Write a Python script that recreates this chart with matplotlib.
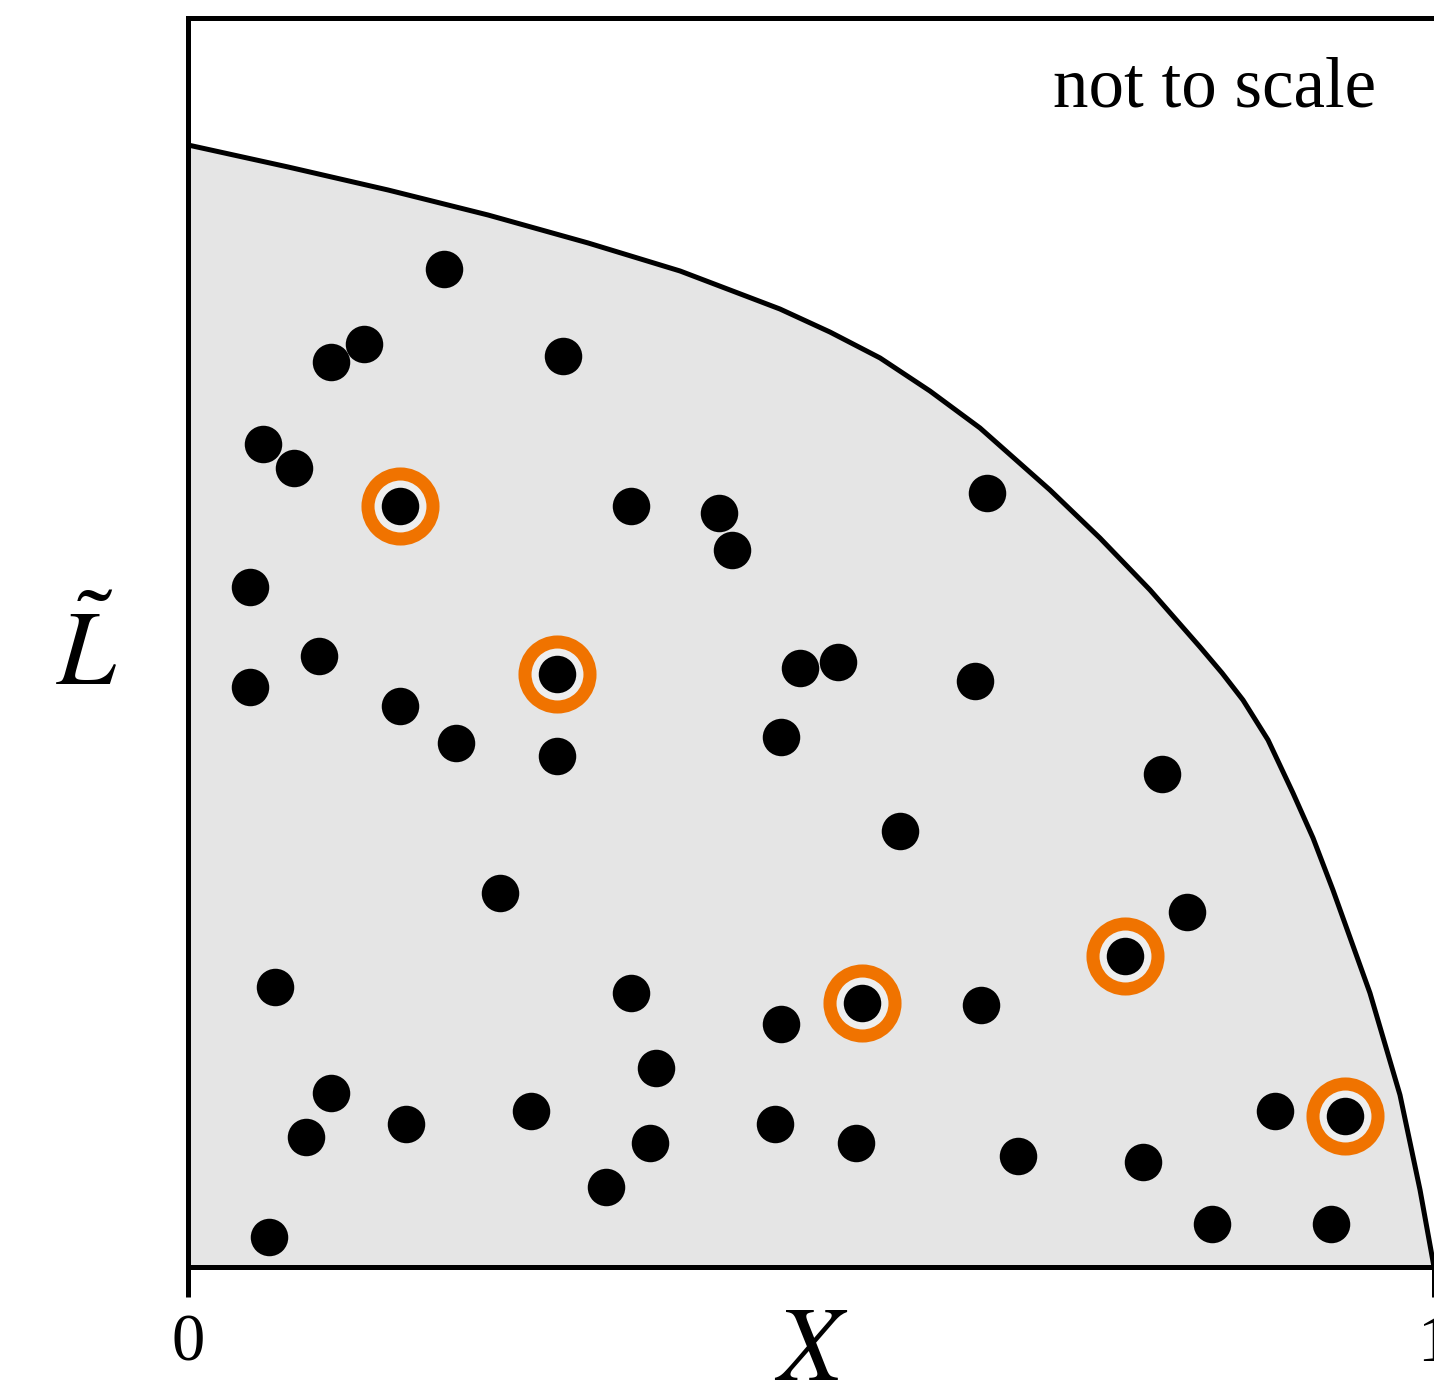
import matplotlib.pyplot as plt

plt.rcParams['font.family'] = ['Liberation Serif', 'DejaVu Serif']
plt.rcParams['mathtext.fontset'] = 'stix'

# boundary of the allowed region
edge_x = [0.0, 0.0803, 0.1605, 0.2408, 0.321, 0.3949, 0.4751, 0.5152, 0.5554, 0.5955,
          0.6356, 0.6918, 0.7319, 0.7721, 0.8122, 0.8299, 0.8467, 0.8668, 0.8868,
          0.9029, 0.9189, 0.9486, 0.9727, 0.9888, 1.0]
edge_y = [1.0, 0.9804, 0.9599, 0.9376, 0.9127, 0.8877, 0.8538, 0.8333, 0.8102, 0.7807,
          0.7478, 0.6925, 0.6497, 0.6034, 0.5526, 0.5294, 0.5053, 0.4697, 0.4225,
          0.3824, 0.336, 0.2442, 0.1533, 0.0686, 0.0]

# sample points
pt_x = [0.2055, 0.1413, 0.1148, 0.301, 0.0602, 0.0851, 0.1701, 0.3555, 0.4262, 0.4366,
        0.6413, 0.0498, 0.1051, 0.2961, 0.4912, 0.5217, 0.6316, 0.0498, 0.1701, 0.2151,
        0.2961, 0.4759, 0.7817, 0.5714, 0.2504, 0.8018, 0.752, 0.0698, 0.3555, 0.5409,
        0.6364, 0.4759, 0.3756, 0.1148, 0.0947, 0.175, 0.2753, 0.3708, 0.4711, 0.5361,
        0.6661, 0.7665, 0.8724, 0.9286, 0.3355, 0.8218, 0.9173, 0.065]
pt_y = [0.8895, 0.8226, 0.8066, 0.812, 0.7335, 0.7121, 0.6783, 0.6783, 0.672, 0.639,
        0.6898, 0.6061, 0.5446, 0.5285, 0.5339, 0.5392, 0.5223, 0.5169, 0.5, 0.467,
        0.4554, 0.4724, 0.4394, 0.3886, 0.3333, 0.3164, 0.2772, 0.2496, 0.2442, 0.2353,
        0.2335, 0.2166, 0.1774, 0.1551, 0.1159, 0.1275, 0.139, 0.1105, 0.1275, 0.1105,
        0.0989, 0.0936, 0.139, 0.1346, 0.0713, 0.0383, 0.0383, 0.0267]

# points picked out with a ring
picked = [6, 13, 29, 26, 43]

fig = plt.figure(figsize=(14.34, 13.83), dpi=100)
ax = fig.add_axes([0.1311, 0.0839, 0.8689, 0.9031])

ax.fill_between(edge_x, edge_y, 0, color='#e5e5e5', lw=0, zorder=1)
ax.plot(edge_x, edge_y, color='black', lw=3.6, solid_joinstyle='round', zorder=2)

ax.plot([pt_x[i] for i in picked], [pt_y[i] for i in picked], 'o', ms=46.8,
        mfc='#eeeeee', mec='#f07300', mew=9.4, zorder=3)
ax.plot(pt_x, pt_y, 'o', ms=27, color='black', mew=0, zorder=4)

ax.set_xlim(0, 1)
ax.set_ylim(0, 1.1132)
ax.spines['right'].set_visible(False)
for s in ['left', 'top', 'bottom']:
    ax.spines[s].set_linewidth(3.6)
ax.set_xticks([0, 1])
ax.set_xticklabels(['0', '1'])
ax.set_yticks([])
ax.tick_params(axis='x', length=21.6, width=3.6, pad=12, labelsize=48)

ax.text(0.5, -0.0905, '$X$', transform=ax.transAxes, ha='center', va='baseline', fontsize=76)
ax.text(-0.081, 0.466, r'$\tilde{L}$', transform=ax.transAxes, ha='center', va='baseline', fontsize=76)
ax.text(0.9535, 0.9295, 'not to scale', transform=ax.transAxes, ha='right', va='baseline', fontsize=51)

fig.savefig('out.png', dpi=100)
